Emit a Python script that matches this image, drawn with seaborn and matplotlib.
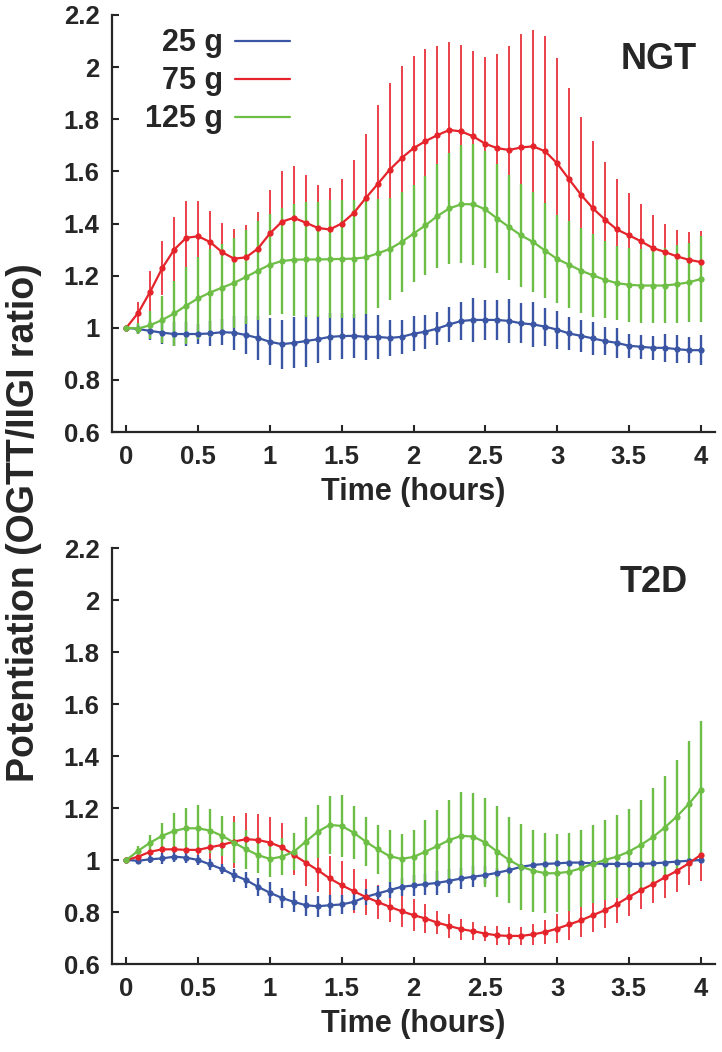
import pandas as pd
import matplotlib
matplotlib.use('Agg')
import matplotlib.pyplot as plt
from matplotlib.lines import Line2D
from matplotlib.ticker import FuncFormatter
import seaborn as sns

# time points (minutes), every 5 min over 4 hours
minutes = [0, 5, 10, 15, 20, 25, 30, 35, 40, 45, 50, 55, 60, 65, 70, 75, 80,
           85, 90, 95, 100, 105, 110, 115, 120, 125, 130, 135, 140, 145, 150,
           155, 160, 165, 170, 175, 180, 185, 190, 195, 200, 205, 210, 215,
           220, 225, 230, 235, 240]

doses = ['25 g', '75 g', '125 g']
colors = {'25 g': '#3a55a4', '75 g': '#e5232a', '125 g': '#6dbe45'}

# ---- NGT panel ----
ngt_25 = [1.0, 0.995, 0.988, 0.981, 0.976, 0.976, 0.976, 0.978, 0.983, 0.981,
          0.972, 0.961, 0.946, 0.937, 0.942, 0.949, 0.956, 0.965, 0.968, 0.969,
          0.965, 0.965, 0.961, 0.965, 0.977, 0.985, 0.997, 1.013, 1.026, 1.03,
          1.03, 1.03, 1.026, 1.017, 1.013, 1.004, 0.993, 0.978, 0.969, 0.959,
          0.949, 0.942, 0.931, 0.927, 0.923, 0.923, 0.918, 0.914, 0.914]
ngt_25_err = [0, 0.02, 0.036, 0.045, 0.045, 0.045, 0.04, 0.047, 0.05, 0.065,
              0.072, 0.086, 0.09, 0.094, 0.098, 0.099, 0.091, 0.09, 0.089, 0.084,
              0.088, 0.084, 0.07, 0.064, 0.068, 0.065, 0.062, 0.066, 0.073, 0.083,
              0.077, 0.077, 0.083, 0.077, 0.086, 0.073, 0.073, 0.064, 0.062, 0.062,
              0.054, 0.058, 0.046, 0.047, 0.047, 0.054, 0.055, 0.051, 0.058]
ngt_75 = [1.0, 1.058, 1.139, 1.229, 1.30, 1.345, 1.351, 1.329, 1.29, 1.265,
          1.27, 1.304, 1.362, 1.407, 1.422, 1.403, 1.383, 1.377, 1.40, 1.44,
          1.497, 1.551, 1.606, 1.651, 1.689, 1.716, 1.739, 1.759, 1.753, 1.734,
          1.706, 1.689, 1.682, 1.692, 1.696, 1.677, 1.631, 1.57, 1.51, 1.458,
          1.415, 1.377, 1.355, 1.332, 1.306, 1.291, 1.274, 1.261, 1.252]
ngt_75_err = [0, 0.04, 0.077, 0.103, 0.125, 0.141, 0.135, 0.119, 0.113, 0.112,
              0.123, 0.14, 0.167, 0.195, 0.2, 0.183, 0.165, 0.161, 0.17, 0.205,
              0.247, 0.302, 0.335, 0.355, 0.354, 0.352, 0.342, 0.336, 0.332, 0.329,
              0.334, 0.36, 0.4, 0.434, 0.447, 0.443, 0.405, 0.351, 0.30, 0.258,
              0.222, 0.193, 0.161, 0.142, 0.125, 0.108, 0.101, 0.106, 0.119]
ngt_125 = [1.0, 0.997, 1.01, 1.03, 1.055, 1.085, 1.113, 1.135, 1.154, 1.172,
           1.195, 1.219, 1.242, 1.256, 1.261, 1.262, 1.262, 1.263, 1.264, 1.265,
           1.27, 1.285, 1.302, 1.329, 1.361, 1.393, 1.429, 1.458, 1.474, 1.474,
           1.454, 1.419, 1.386, 1.354, 1.329, 1.296, 1.264, 1.242, 1.219, 1.201,
           1.184, 1.171, 1.165, 1.162, 1.162, 1.162, 1.167, 1.174, 1.187]
ngt_125_err = [0, 0.02, 0.055, 0.09, 0.125, 0.148, 0.157, 0.169, 0.169, 0.173,
               0.179, 0.19, 0.193, 0.203, 0.214, 0.22, 0.22, 0.226, 0.226, 0.226,
               0.219, 0.21, 0.197, 0.19, 0.185, 0.19, 0.2, 0.213, 0.226, 0.232,
               0.225, 0.209, 0.202, 0.196, 0.193, 0.183, 0.17, 0.167, 0.164, 0.159,
               0.148, 0.141, 0.142, 0.142, 0.145, 0.145, 0.15, 0.151, 0.164]

# ---- T2D panel ----
t2d_25 = [1.0, 0.997, 1.003, 1.006, 1.013, 1.009, 1.0, 0.983, 0.965, 0.942,
          0.923, 0.897, 0.874, 0.854, 0.839, 0.826, 0.822, 0.826, 0.829, 0.839,
          0.858, 0.871, 0.884, 0.897, 0.902, 0.907, 0.912, 0.92, 0.929, 0.936,
          0.942, 0.951, 0.961, 0.974, 0.981, 0.985, 0.987, 0.99, 0.99, 0.987,
          0.985, 0.985, 0.985, 0.985, 0.987, 0.99, 0.994, 0.997, 1.0]
t2d_25_err = [0, 0.01, 0.015, 0.02, 0.02, 0.02, 0.02, 0.02, 0.02, 0.025,
              0.03, 0.035, 0.04, 0.04, 0.04, 0.04, 0.04, 0.04, 0.035, 0.03,
              0.03, 0.03, 0.03, 0.035, 0.04, 0.04, 0.045, 0.045, 0.04, 0.04,
              0.035, 0.02, 0.015, 0.012, 0.01, 0.01, 0.01, 0.01, 0.01, 0.01,
              0.01, 0.01, 0.01, 0.01, 0.01, 0.01, 0.01, 0.01, 0.01]
t2d_75 = [1.0, 1.013, 1.032, 1.041, 1.041, 1.039, 1.039, 1.049, 1.058, 1.071,
          1.08, 1.077, 1.067, 1.049, 1.019, 0.99, 0.961, 0.929, 0.903, 0.88,
          0.858, 0.839, 0.82, 0.803, 0.788, 0.775, 0.759, 0.746, 0.734, 0.726,
          0.717, 0.71, 0.708, 0.708, 0.714, 0.723, 0.736, 0.752, 0.768, 0.788,
          0.807, 0.83, 0.858, 0.884, 0.907, 0.933, 0.958, 0.987, 1.019]
t2d_75_err = [0, 0.015, 0.03, 0.045, 0.045, 0.045, 0.06, 0.08, 0.1, 0.1,
              0.1, 0.1, 0.1, 0.095, 0.077, 0.09, 0.084, 0.087, 0.093, 0.085,
              0.07, 0.065, 0.06, 0.06, 0.062, 0.055, 0.045, 0.045, 0.04, 0.035,
              0.03, 0.035, 0.035, 0.035, 0.04, 0.045, 0.055, 0.06, 0.064, 0.065,
              0.07, 0.072, 0.072, 0.074, 0.074, 0.078, 0.08, 0.084, 0.1]
t2d_125 = [1.0, 1.036, 1.067, 1.093, 1.112, 1.122, 1.122, 1.113, 1.093, 1.067,
           1.041, 1.019, 1.004, 1.013, 1.032, 1.071, 1.109, 1.135, 1.131, 1.105,
           1.071, 1.041, 1.015, 1.004, 1.012, 1.032, 1.054, 1.077, 1.093, 1.09,
           1.067, 1.032, 1.0, 0.974, 0.959, 0.949, 0.949, 0.955, 0.968, 0.985,
           1.0, 1.013, 1.032, 1.058, 1.088, 1.125, 1.167, 1.215, 1.27]
t2d_125_err = [0, 0.016, 0.03, 0.05, 0.068, 0.077, 0.09, 0.085, 0.078, 0.08,
               0.074, 0.07, 0.07, 0.07, 0.07, 0.093, 0.103, 0.11, 0.12, 0.103,
               0.093, 0.093, 0.1, 0.096, 0.104, 0.12, 0.139, 0.154, 0.17, 0.167,
               0.17, 0.174, 0.167, 0.165, 0.158, 0.154, 0.15, 0.15, 0.148, 0.15,
               0.154, 0.16, 0.164, 0.174, 0.19, 0.2, 0.219, 0.242, 0.264]

x_ticks = [0, 0.5, 1, 1.5, 2, 2.5, 3, 3.5, 4]
y_ticks = [0.6, 0.8, 1, 1.2, 1.4, 1.6, 1.8, 2, 2.2]


def to_frame(series):
    rows = []
    for dose, (vals, errs) in series.items():
        for m, v, e in zip(minutes, vals, errs):
            rows.append({'time': m / 60, 'value': v, 'err': e, 'dose': dose})
    return pd.DataFrame(rows)


ngt_df = to_frame({'25 g': (ngt_25, ngt_25_err), '75 g': (ngt_75, ngt_75_err),
                   '125 g': (ngt_125, ngt_125_err)})
t2d_df = to_frame({'25 g': (t2d_25, t2d_25_err), '75 g': (t2d_75, t2d_75_err),
                   '125 g': (t2d_125, t2d_125_err)})

sns.set_style('ticks')
plt.rcParams['font.family'] = ['Liberation Sans', 'DejaVu Sans']
plt.rcParams['font.weight'] = 'bold'

fig = plt.figure(figsize=(7.22, 10.52), dpi=100)
ax1 = fig.add_axes([112 / 722, 1 - 432 / 1052, 603 / 722, 417 / 1052])
ax2 = fig.add_axes([112 / 722, 1 - 964 / 1052, 603 / 722, 416 / 1052])

for ax, df, tag, tag_pos in [(ax1, ngt_df, 'NGT', (0.97, 0.893)),
                             (ax2, t2d_df, 'T2D', (0.955, 0.918))]:
    # error bars: red underneath, green on top
    for dose, ew in [('75 g', 1.2), ('25 g', 1.7), ('125 g', 1.7)]:
        d = df[df['dose'] == dose]
        ax.errorbar(d['time'], d['value'], yerr=d['err'], fmt='none',
                    ecolor=colors[dose], elinewidth=ew, capsize=0, zorder=1)
    sns.lineplot(data=df, x='time', y='value', hue='dose', hue_order=doses,
                 palette=colors, marker='o', markersize=4.5, markeredgewidth=0,
                 linewidth=1.6, legend=False, errorbar=None, ax=ax, zorder=3)
    ax.set_xlim(-0.1, 4.1)
    ax.set_ylim(0.6, 2.2)
    ax.set_xticks(x_ticks)
    ax.set_yticks(y_ticks)
    ax.xaxis.set_major_formatter(FuncFormatter(lambda v, p: f'{v:g}'))
    ax.yaxis.set_major_formatter(FuncFormatter(lambda v, p: f'{v:g}'))
    ax.tick_params(direction='in', length=5, width=1.5, labelsize=18.5, pad=9)
    for lab in ax.get_xticklabels() + ax.get_yticklabels():
        lab.set_fontweight('bold')
    sns.despine(ax=ax)
    for sp in ['left', 'bottom']:
        ax.spines[sp].set_linewidth(1.6)
    ax.set_xlabel('Time (hours)', fontsize=22, fontweight='bold', labelpad=6)
    ax.set_ylabel('')
    ax.text(tag_pos[0], tag_pos[1], tag, transform=ax.transAxes, ha='right',
            va='center', fontsize=26, fontweight='bold')

handles = [Line2D([], [], color=colors[d], linewidth=1.6) for d in doses]
ax1.legend(handles, doses, loc='upper left', bbox_to_anchor=(0.055, 0.968),
           frameon=False, markerfirst=False, handlelength=1.8,
           handletextpad=0.4, labelspacing=0.26, borderpad=0, borderaxespad=0,
           prop={'weight': 'bold', 'size': 22})

fig.text(0.033, 0.503, 'Potentiation (OGTT/IIGI ratio)', rotation=90,
         ha='center', va='center', fontsize=27, fontweight='bold')

fig.savefig('out.png', dpi=100)
plt.close(fig)
